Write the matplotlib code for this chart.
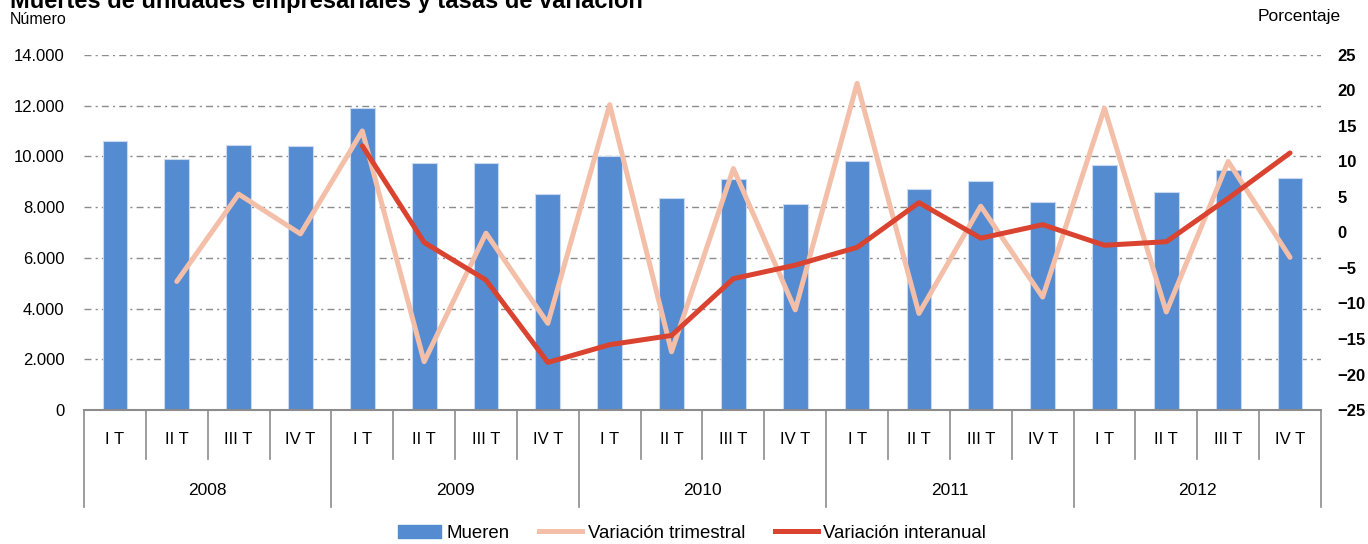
import matplotlib.pyplot as plt
from matplotlib.patches import Patch
from matplotlib.lines import Line2D
from matplotlib.ticker import FuncFormatter
import matplotlib.transforms as mtransforms

plt.rcParams['font.family'] = ['Liberation Sans', 'DejaVu Sans']

years = ['2008', '2009', '2010', '2011', '2012']
quarters = ['I T', 'II T', 'III T', 'IV T']

# muertes de unidades empresariales (numero)
mueren = [10620, 9900, 10450, 10410,
          11920, 9750, 9730, 8500,
          10030, 8360, 9110, 8110,
          9830, 8700, 9030, 8215,
          9660, 8600, 9465, 9150]
# variacion trimestral (%), sin dato el primer trimestre
var_trim = [None, -6.9, 5.4, -0.2,
            14.3, -18.2, -0.1, -12.8,
            18.0, -16.8, 9.0, -10.9,
            21.0, -11.4, 3.7, -9.1,
            17.5, -11.2, 10.0, -3.5]
# variacion interanual (%), empieza en 2009
var_inter = [None, None, None, None,
             12.2, -1.4, -6.7, -18.3,
             -15.8, -14.5, -6.5, -4.6,
             -2.1, 4.2, -0.8, 1.1,
             -1.8, -1.3, 4.8, 11.2]

c_bar = '#558bd1'
c_trim = '#f4bfa8'
c_inter = '#d9432f'
c_grid = '#8c8c8c'

fig = plt.figure(figsize=(13.68, 5.44), dpi=100)
ax = fig.add_axes([0.0614, 0.2463, 0.9042, 0.6527])
ax2 = ax.twinx()

n = len(mueren)
x = list(range(n))
ax.bar(x, mueren, width=0.40, color=c_bar, edgecolor='#c9d9f0', linewidth=0.8, zorder=2)

xt = [i for i in x if var_trim[i] is not None]
ax2.plot(xt, [var_trim[i] for i in xt], color=c_trim, lw=3.6, solid_capstyle='round', zorder=3)
xi = [i for i in x if var_inter[i] is not None]
ax2.plot(xi, [var_inter[i] for i in xi], color=c_inter, lw=3.6, solid_capstyle='round', zorder=4)

ax.set_xlim(-0.5, n - 0.5)
ax.set_ylim(0, 14000)
ax.set_yticks(range(0, 14001, 2000))
ax.yaxis.set_major_formatter(FuncFormatter(lambda v, p: f'{int(v):,}'.replace(',', '.')))
ax2.set_ylim(-25, 25)
ax2.set_yticks(range(-25, 26, 5))

ax.grid(axis='y', color=c_grid, lw=1.0, dashes=(5, 3, 1.5, 3), zorder=0)
ax.set_axisbelow(True)

for a in (ax, ax2):
    for s in ('top', 'left', 'right', 'bottom'):
        a.spines[s].set_visible(False)
ax.spines['bottom'].set_visible(True)
ax.spines['bottom'].set_color(c_grid)
ax.spines['bottom'].set_linewidth(1.5)

ax.tick_params(axis='y', length=0, pad=14, labelsize=12)
ax2.tick_params(axis='y', length=0, pad=12, labelsize=12)
for lb in ax2.get_yticklabels():
    lb.set_fontweight('bold')
ax.set_xticks([])

# etiquetas de categorias en dos niveles
trans = mtransforms.blended_transform_factory(ax.transData, ax.transAxes)
for i in x:
    ax.text(i, -0.082, quarters[i % 4], transform=trans, ha='center', va='center', fontsize=12)
for k, yr in enumerate(years):
    ax.text(4 * k + 1.5, -0.228, yr, transform=trans, ha='center', va='center', fontsize=12.5)
for b in range(n + 1):
    depth = -0.273 if b % 4 == 0 else -0.138
    ax.plot([b - 0.5, b - 0.5], [0, depth], transform=trans, color=c_grid, lw=1.2, clip_on=False)

fig.text(0.007, 1 - 8 / 544, 'Muertes de unidades empresariales y tasas de variación',
         fontsize=17, fontweight='bold', va='baseline')
fig.text(0.007, 1 - 20 / 544, 'Número', fontsize=11.5, va='center')
fig.text(0.98, 1 - 17 / 544, 'Porcentaje', fontsize=12.5, va='center', ha='right')

handles = [Patch(color=c_bar, label='Mueren'),
           Line2D([], [], color=c_trim, lw=3.6, label='Variación trimestral'),
           Line2D([], [], color=c_inter, lw=3.6, label='Variación interanual')]
fig.legend(handles=handles, loc='lower center', bbox_to_anchor=(0.506, -0.027), ncol=3,
           frameon=False, fontsize=13.4, handlelength=2.3, handletextpad=0.3, columnspacing=1.6)

fig.savefig('out.png', dpi=100)
